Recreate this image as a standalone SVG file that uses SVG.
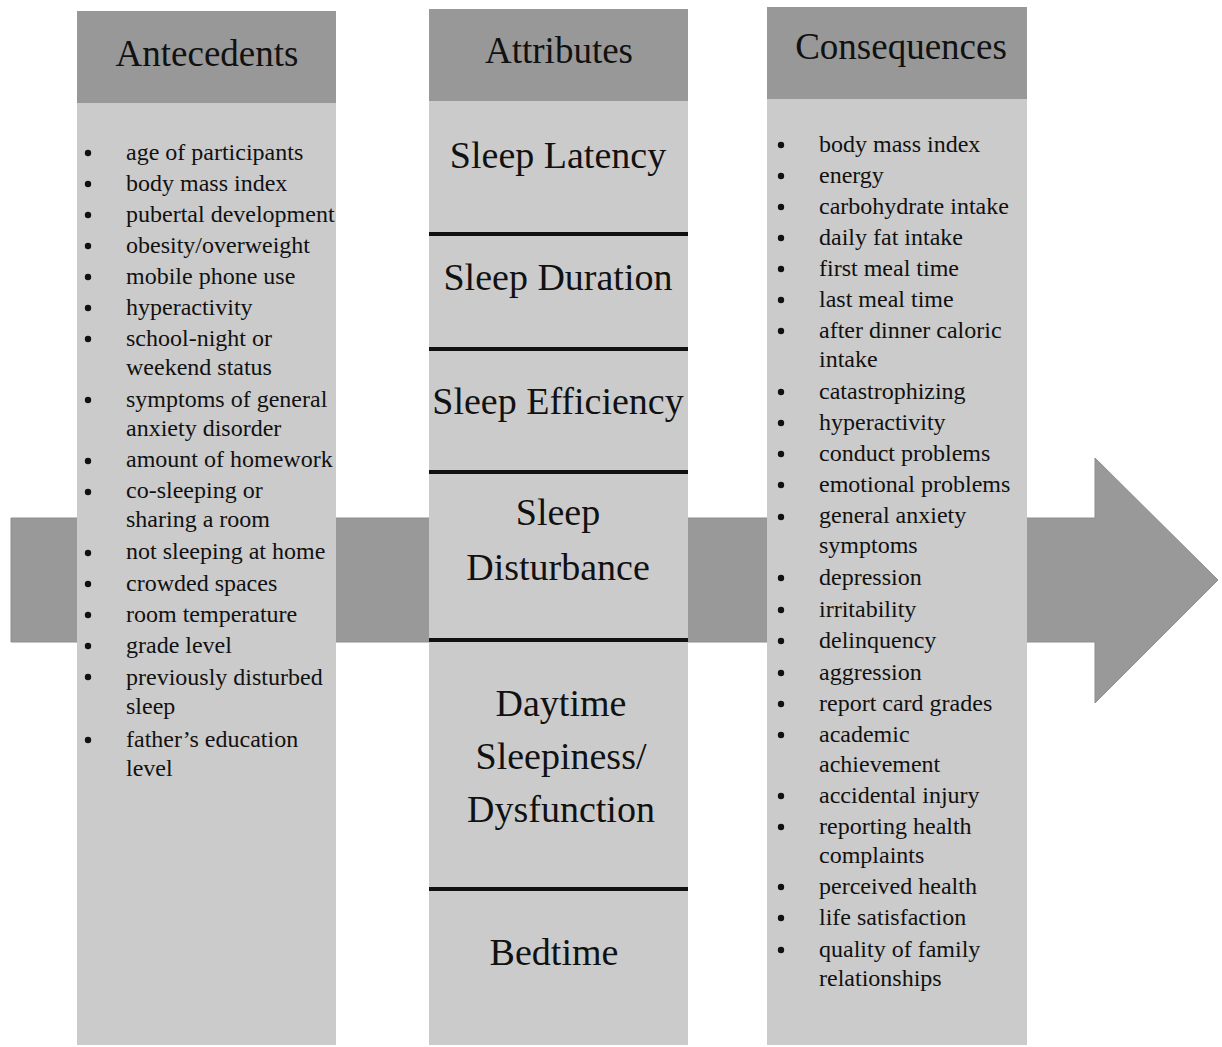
<svg xmlns="http://www.w3.org/2000/svg" width="1222" height="1047" viewBox="0 0 1222 1047">
<style>
.hdr{fill:#989898}
.body{fill:#cbcbcb}
.ht{font-family:"Liberation Serif","Times New Roman",serif;font-size:37px;fill:#111;text-anchor:middle}
.at{font-family:"Liberation Serif","Times New Roman",serif;font-size:38px;fill:#111;text-anchor:middle}
.li{font-family:"Liberation Serif","Times New Roman",serif;font-size:24px;fill:#111}
.div{stroke:#111;stroke-width:4}
.bul{fill:#111}
</style>
<rect width="1222" height="1047" fill="#ffffff"/>
<g id="connectors">
<polygon points="11,518 1095,518 1095,458 1218,580 1095,703 1095,642 11,642" fill="#999999" stroke="#8e8e8e" stroke-width="1"/>
</g>
<g id="antecedents">
<rect class="body" x="77" y="103" width="259" height="942"/>
<rect class="hdr" x="77" y="11" width="259" height="92"/>
<text class="ht" x="207" y="66">Antecedents</text>
<g class="bul">
<circle cx="88" cy="153" r="3.2"/><circle cx="88" cy="184" r="3.2"/><circle cx="88" cy="215" r="3.2"/><circle cx="88" cy="246" r="3.2"/><circle cx="88" cy="277" r="3.2"/><circle cx="88" cy="308" r="3.2"/><circle cx="88" cy="339" r="3.2"/><circle cx="88" cy="400" r="3.2"/><circle cx="88" cy="461" r="3.2"/><circle cx="88" cy="492" r="3.2"/><circle cx="88" cy="553" r="3.2"/><circle cx="88" cy="584" r="3.2"/><circle cx="88" cy="615" r="3.2"/><circle cx="88" cy="646" r="3.2"/><circle cx="88" cy="677" r="3.2"/><circle cx="88" cy="740" r="3.2"/>
</g>
<text class="li" x="126" y="160">age of participants</text>
<text class="li" x="126" y="191">body mass index</text>
<text class="li" x="126" y="222">pubertal development</text>
<text class="li" x="126" y="253">obesity/overweight</text>
<text class="li" x="126" y="284">mobile phone use</text>
<text class="li" x="126" y="315">hyperactivity</text>
<text class="li" x="126" y="346">school-night or</text>
<text class="li" x="126" y="375">weekend status</text>
<text class="li" x="126" y="407">symptoms of general</text>
<text class="li" x="126" y="436">anxiety disorder</text>
<text class="li" x="126" y="467">amount of homework</text>
<text class="li" x="126" y="498">co-sleeping or</text>
<text class="li" x="126" y="527">sharing a room</text>
<text class="li" x="126" y="559">not sleeping at home</text>
<text class="li" x="126" y="591">crowded spaces</text>
<text class="li" x="126" y="622">room temperature</text>
<text class="li" x="126" y="653">grade level</text>
<text class="li" x="126" y="685">previously disturbed</text>
<text class="li" x="126" y="714">sleep</text>
<text class="li" x="126" y="747">father’s education</text>
<text class="li" x="126" y="776">level</text>
</g>
<g id="attributes">
<rect class="body" x="429" y="101" width="259" height="944"/>
<rect class="hdr" x="429" y="9" width="259" height="92"/>
<text class="ht" x="559" y="63">Attributes</text>
<line class="div" x1="429" y1="234" x2="688" y2="234"/>
<line class="div" x1="429" y1="349" x2="688" y2="349"/>
<line class="div" x1="429" y1="472" x2="688" y2="472"/>
<line class="div" x1="429" y1="640" x2="688" y2="640"/>
<line class="div" x1="429" y1="889" x2="688" y2="889"/>
<text class="at" x="558" y="168">Sleep Latency</text>
<text class="at" x="558" y="290">Sleep Duration</text>
<text class="at" x="558" y="414">Sleep Efficiency</text>
<text class="at" x="558" y="525">Sleep</text>
<text class="at" x="558" y="580">Disturbance</text>
<text class="at" x="561" y="716">Daytime</text>
<text class="at" x="561" y="769">Sleepiness/</text>
<text class="at" x="561" y="822">Dysfunction</text>
<text class="at" x="554" y="965">Bedtime</text>
</g>
<g id="consequences">
<rect class="body" x="767" y="99" width="260" height="946"/>
<rect class="hdr" x="767" y="7" width="260" height="92"/>
<text class="ht" x="901" y="59">Consequences</text>
<g class="bul">
<circle cx="781" cy="145" r="3.2"/><circle cx="781" cy="176" r="3.2"/><circle cx="781" cy="207" r="3.2"/><circle cx="781" cy="238" r="3.2"/><circle cx="781" cy="269" r="3.2"/><circle cx="781" cy="300" r="3.2"/><circle cx="781" cy="331" r="3.2"/><circle cx="781" cy="392" r="3.2"/><circle cx="781" cy="423" r="3.2"/><circle cx="781" cy="454" r="3.2"/><circle cx="781" cy="485" r="3.2"/><circle cx="781" cy="517" r="3.2"/><circle cx="781" cy="578" r="3.2"/><circle cx="781" cy="610" r="3.2"/><circle cx="781" cy="641" r="3.2"/><circle cx="781" cy="673" r="3.2"/><circle cx="781" cy="704" r="3.2"/><circle cx="781" cy="735" r="3.2"/><circle cx="781" cy="796" r="3.2"/><circle cx="781" cy="827" r="3.2"/><circle cx="781" cy="887" r="3.2"/><circle cx="781" cy="918" r="3.2"/><circle cx="781" cy="950" r="3.2"/>
</g>
<text class="li" x="819" y="152">body mass index</text>
<text class="li" x="819" y="183">energy</text>
<text class="li" x="819" y="214">carbohydrate intake</text>
<text class="li" x="819" y="245">daily fat intake</text>
<text class="li" x="819" y="276">first meal time</text>
<text class="li" x="819" y="307">last meal time</text>
<text class="li" x="819" y="338">after dinner caloric</text>
<text class="li" x="819" y="367">intake</text>
<text class="li" x="819" y="399">catastrophizing</text>
<text class="li" x="819" y="430">hyperactivity</text>
<text class="li" x="819" y="461">conduct problems</text>
<text class="li" x="819" y="492">emotional problems</text>
<text class="li" x="819" y="523">general anxiety</text>
<text class="li" x="819" y="553">symptoms</text>
<text class="li" x="819" y="585">depression</text>
<text class="li" x="819" y="617">irritability</text>
<text class="li" x="819" y="648">delinquency</text>
<text class="li" x="819" y="680">aggression</text>
<text class="li" x="819" y="711">report card grades</text>
<text class="li" x="819" y="742">academic</text>
<text class="li" x="819" y="772">achievement</text>
<text class="li" x="819" y="803">accidental injury</text>
<text class="li" x="819" y="834">reporting health</text>
<text class="li" x="819" y="863">complaints</text>
<text class="li" x="819" y="894">perceived health</text>
<text class="li" x="819" y="925">life satisfaction</text>
<text class="li" x="819" y="957">quality of family</text>
<text class="li" x="819" y="986">relationships</text>
</g>
</svg>
